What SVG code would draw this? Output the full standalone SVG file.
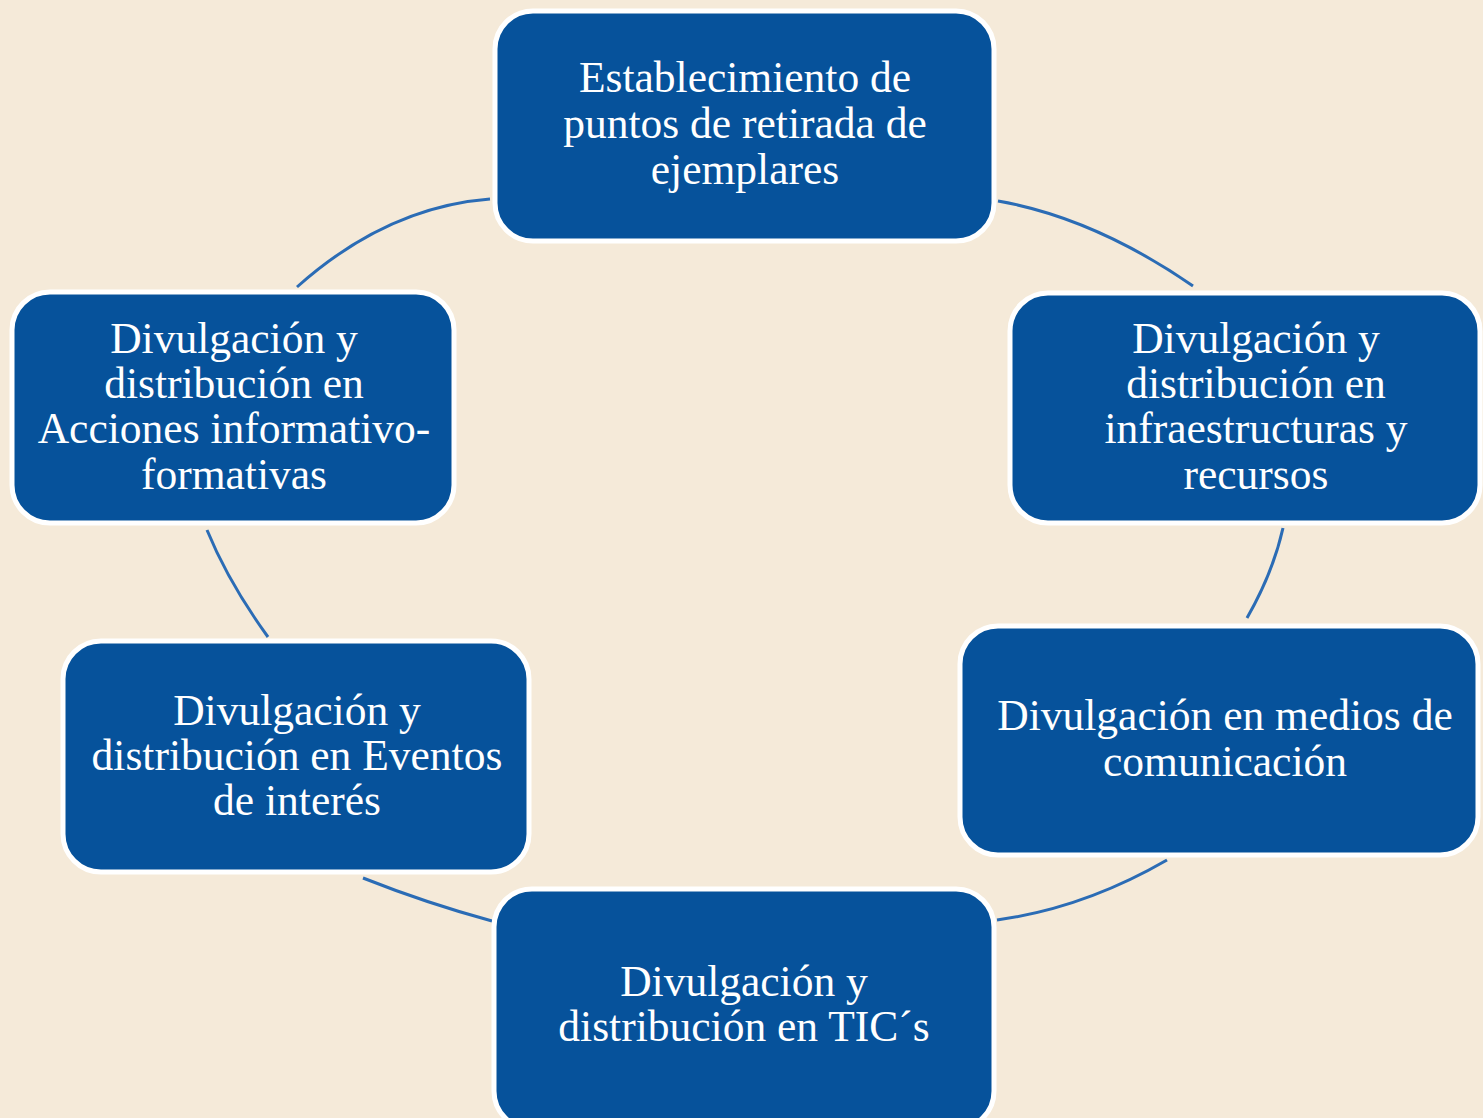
<svg xmlns="http://www.w3.org/2000/svg" width="1483" height="1118" viewBox="0 0 1483 1118">
<style>
.node rect{fill:#06529B;stroke:#FFFFFF;stroke-width:5}
.node text{fill:#FFFFFF;font-family:"Liberation Serif","Times New Roman",serif;font-size:43.5px;text-anchor:middle}
.conn path{fill:none;stroke:#2B6CB5;stroke-width:3;stroke-linecap:butt}
</style>
<rect x="0" y="0" width="1483" height="1118" fill="#F5EAD9"/>
<g id="connectors" class="conn">
<path d="M297,287 Q386.5,207 490,199"/>
<path d="M998,201 Q1094.5,218 1193,286"/>
<path d="M1283,528 Q1273,572.5 1247,618"/>
<path d="M1167,860 Q1084,908 997,920"/>
<path d="M363,878 Q426,903 492,921"/>
<path d="M207,530 Q228.5,582.5 268,637"/>
</g>
<g id="node-top" class="node">
<rect x="495" y="11" width="499" height="230" rx="38"/>
<text x="745" y="92">Establecimiento de</text>
<text x="745" y="138">puntos de retirada de</text>
<text x="745" y="184">ejemplares</text>
</g>
<g id="node-right-top" class="node">
<rect x="1010" y="293" width="470" height="230" rx="38"/>
<text x="1256" y="353">Divulgación y</text>
<text x="1256" y="398">distribución en</text>
<text x="1256" y="443">infraestructuras y</text>
<text x="1256" y="489">recursos</text>
</g>
<g id="node-right-bottom" class="node">
<rect x="960" y="626" width="518" height="229" rx="38"/>
<text x="1225" y="730">Divulgación en medios de</text>
<text x="1225" y="776">comunicación</text>
</g>
<g id="node-bottom" class="node">
<rect x="494" y="889" width="500" height="240" rx="38"/>
<text x="744" y="996">Divulgación y</text>
<text x="744" y="1041">distribución en TIC´s</text>
</g>
<g id="node-left-bottom" class="node">
<rect x="63" y="641" width="466" height="231" rx="38"/>
<text x="297" y="725">Divulgación y</text>
<text x="297" y="770">distribución en Eventos</text>
<text x="297" y="815">de interés</text>
</g>
<g id="node-left-top" class="node">
<rect x="12" y="292" width="442" height="231" rx="38"/>
<text x="234" y="353">Divulgación y</text>
<text x="234" y="398">distribución en</text>
<text x="234" y="443">Acciones informativo-</text>
<text x="234" y="489">formativas</text>
</g>
</svg>
